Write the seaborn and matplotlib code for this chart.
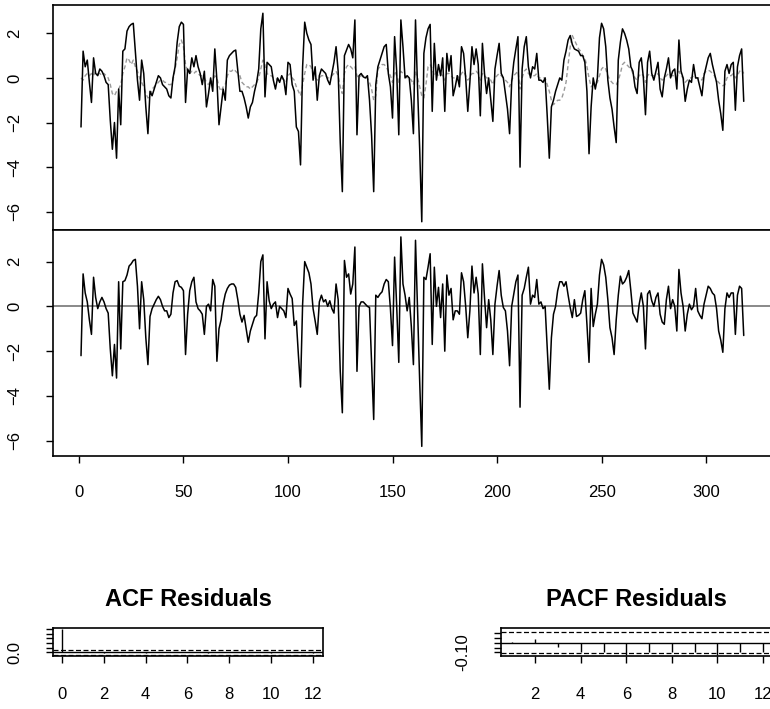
import numpy as np
import pandas as pd
import seaborn as sns
import matplotlib
matplotlib.use("Agg")
import matplotlib.pyplot as plt

# observed series (black line, top panel)
observed = [
    -2.2, 1.2, 0.5, 0.8, -0.2, -1.1, 0.9, 0.2, 0.1, 0.4,
    0.3, 0.1, -0.2, -0.3, -1.9, -3.2, -2.0, -3.6, -0.5, -2.1,
    1.2, 1.3, 2.1, 2.3, 2.4, 2.45, 1.2, -0.1, -1.0, 0.8,
    0.2, -1.3, -2.5, -0.6, -0.8, -0.5, -0.2, 0.1, 0.0, -0.3,
    -0.4, -0.5, -0.8, -0.9, 0.0, 0.5, 1.6, 2.3, 2.5, 2.4,
    -1.1, 0.4, 0.2, 0.9, 0.5, 1.0, 0.5, 0.2, -0.3, 0.3,
    -1.3, -0.7, 0.0, -0.6, 1.3, -0.1, -2.1, -1.3, -0.5, -1.0,
    0.8, 1.0, 1.1, 1.2, 1.25, 0.3, -0.6, -0.6, -0.9, -1.3,
    -1.8, -1.3, -1.1, -0.6, -0.2, 0.4, 2.2, 2.9, -0.85, 0.7,
    0.6, 0.5, -0.1, -0.5, 0.0, -0.2, 0.1, -0.1, -0.75, 0.7,
    0.6, -0.3, -0.6, -2.2, -2.4, -3.9, 0.5, 2.5, 2.0, 1.7,
    1.5, -0.1, 0.5, -1.0, 0.1, 0.4, 0.3, 0.2, -0.1, -0.3,
    0.2, 0.7, 1.4, 0.3, -2.9, -5.1, 1.0, 1.25, 1.5, 1.3,
    0.9, 2.6, -2.55, 0.1, 0.2, 0.05, 0.0, 0.1, -1.0, -2.6,
    -5.1, -0.3, 0.5, 0.8, 1.1, 1.4, 1.5, 0.2, -0.4, -1.8,
    1.85, 0.3, -2.55, 2.6, 1.4, 0.0, 0.1, 0.0, -1.0, -2.5,
    2.6, -0.5, -3.2, -6.45, 1.1, 1.8, 2.2, 2.4, -1.5, 1.55,
    -0.1, 0.6, 0.1, 0.9, -1.5, 1.1, 0.3, 1.0, -0.8, -0.4,
    0.1, -0.4, 1.4, 1.1, 0.0, -1.5, -0.2, 1.4, 0.6, 1.3,
    0.6, -1.7, 1.55, 0.2, -0.7, 0.0, -1.0, -1.95, 0.4, 1.0,
    1.55, 0.2, 0.0, -0.7, -1.4, -2.5, -0.2, 0.7, 1.3, 1.85,
    -4.0, 0.4, 1.4, 1.85, 0.5, 0.0, 0.5, 0.4, 1.1, -0.1,
    -0.1, -0.2, 0.0, -1.7, -3.6, -1.3, -1.0, -0.6, -0.3, 0.0,
    -0.1, 0.8, 1.2, 1.7, 1.9, 1.5, 1.3, 1.25, 1.2, 1.0,
    1.0, 0.7, -0.6, -3.4, -1.3, 0.0, -0.5, 0.0, 1.8, 2.45,
    2.2, 1.4, -0.1, -0.9, -1.4, -2.2, -2.9, 0.8, 1.6, 2.2,
    2.0, 1.7, 1.3, 0.5, 0.3, -0.4, -0.7, 0.7, 0.9, 0.0,
    -1.65, 0.7, 1.2, 0.2, -0.1, 0.3, 0.7, -0.5, -0.85, 0.0,
    0.4, 0.9, 0.0, 0.3, 0.4, -0.5, 1.7, 0.3, 0.0, -1.05,
    -0.5, -0.1, -0.2, 0.6, 0.0, 0.0, -0.4, -0.8, 0.1, 0.5,
    0.9, 1.1, 0.6, 0.2, -0.2, -1.0, -1.6, -2.35, 0.3, 0.6,
    0.2, 0.6, 0.7, -1.45, 0.5, 1.0, 1.3, -1.05,
]

# fitted values (grey dashed line, top panel)
fitted = [
    0.0, -0.1, 0.1, 0.2, 0.1, 0.2, 0.1, 0.3, 0.2, 0.2,
    0.1, 0.2, 0.1, 0.0, -0.3, -0.7, -0.8, -0.6, -0.5, -0.3,
    0.2, 0.5, 0.9, 0.8, 0.6, 0.8, 0.5, 0.3, 0.0, -0.2,
    -0.4, -0.7, -0.9, -0.8, -0.5, -0.4, -0.3, -0.2, -0.1, -0.1,
    -0.2, -0.2, -0.3, -0.3, -0.1, 0.4, 0.9, 1.5, 1.7, 1.4,
    0.6, 0.3, 0.2, 0.3, 0.2, 0.3, 0.2, 0.1, 0.1, 0.0,
    -0.2, -0.3, -0.1, -0.2, 0.1, 0.0, -0.4, -0.6, -0.4, -0.3,
    0.1, 0.3, 0.3, 0.4, 0.3, 0.2, 0.1, -0.2, -0.3, -0.4,
    -0.4, -0.5, -0.4, -0.3, -0.2, 0.0, 0.4, 0.8, 0.6, 0.2,
    0.1, 0.1, 0.0, 0.0, -0.1, 0.0, 0.0, -0.1, -0.2, 0.1,
    0.2, 0.0, -0.1, -0.4, -0.6, -0.8, -0.3, 0.2, 0.6, 0.6,
    0.5, 0.2, 0.0, -0.1, 0.0, 0.1, 0.1, 0.1, 0.0, 0.0,
    0.1, 0.2, 0.3, 0.1, -0.4, -0.7, 0.2, 0.5, 0.6, 0.5,
    0.4, 0.5, 0.1, 0.0, 0.1, 0.1, 0.0, 0.0, -0.2, -0.5,
    -1.0, -0.8, 0.4, 0.5, 0.6, 0.6, 0.5, 0.3, 0.1, -0.2,
    0.3, 0.1, -0.2, 0.3, 0.2, 0.1, 0.0, 0.0, -0.1, -0.3,
    0.3, 0.0, -0.4, -0.8, -0.9, -0.3, 0.5, 0.6, 0.4, 0.1,
    0.2, 0.1, 0.2, 0.1, -0.1, 0.2, 0.2, 0.1, 0.0, 0.0,
    0.1, 0.0, 0.2, 0.3, 0.1, -0.1, 0.0, 0.2, 0.2, 0.3,
    0.2, -0.1, 0.2, 0.1, 0.0, 0.0, -0.1, -0.3, 0.0, 0.1,
    0.2, 0.1, 0.0, -0.1, -0.2, -0.4, -0.1, 0.1, 0.2, 0.3,
    -0.5, 0.0, 0.3, 0.4, 0.2, 0.1, 0.1, 0.1, 0.2, 0.0,
    0.0, 0.0, 0.0, -0.3, -0.6, -1.0, -1.2, -1.1, -1.0, -1.0,
    -0.9, -0.6, -0.2, 0.6, 1.4, 1.9, 1.7, 1.5, 1.3, 1.2,
    1.0, 0.9, 0.5, 0.0, -0.4, -0.3, -0.3, -0.2, 0.1, 0.4,
    0.5, 0.4, 0.1, -0.1, -0.2, -0.3, -0.3, -0.1, 0.2, 0.6,
    0.7, 0.6, 0.5, 0.4, 0.2, 0.0, -0.1, 0.1, 0.2, 0.1,
    -0.2, 0.1, 0.2, 0.1, 0.1, 0.1, 0.2, 0.0, -0.1, 0.0,
    0.1, 0.2, 0.1, 0.1, 0.1, 0.0, 0.3, 0.1, 0.0, -0.2,
    -0.1, 0.0, 0.0, 0.1, 0.0, 0.0, 0.0, -0.1, 0.2, 0.3,
    0.35, 0.3, 0.2, 0.1, -0.1, -0.2, -0.3, -0.35, -0.3, 0.0,
    0.1, 0.1, 0.2, 0.0, 0.1, 0.3, 0.35, 0.2,
]

# residuals (bottom panel)
residuals = [
    -2.2, 1.45, 0.6, 0.2, -0.6, -1.25, 1.3, 0.4, -0.1, 0.2,
    0.4, 0.2, -0.1, -0.3, -1.9, -3.1, -1.7, -3.2, 1.1, -1.9,
    1.1, 1.15, 1.4, 1.8, 1.9, 2.05, 2.1, 0.9, -1.0, 1.1,
    0.3, -1.4, -2.6, -0.45, -0.1, 0.1, 0.3, 0.45, 0.3, 0.0,
    -0.2, -0.2, -0.5, -0.35, 0.6, 1.1, 1.15, 0.9, 0.85, 0.7,
    -2.15, -0.35, 0.7, 1.1, 1.3, 0.2, -0.1, -0.2, -0.35, -1.25,
    0.0, 0.1, -0.2, 1.2, 0.9, -2.45, -1.0, -0.6, 0.1, 0.55,
    0.8, 0.95, 1.0, 1.0, 0.85, 0.3, -0.35, -0.7, -0.4, -1.0,
    -1.6, -1.1, -0.8, -0.5, -0.4, 0.6, 2.0, 2.3, -1.45, 1.1,
    0.25, -0.1, 0.1, 0.2, -0.5, 0.0, -0.1, -0.2, -0.5, 0.8,
    0.55, 0.35, -0.85, -0.65, -2.2, -3.6, 0.1, 2.0, 1.75, 1.5,
    1.0, -0.1, -0.65, -1.25, 0.2, 0.5, 0.2, 0.3, 0.0, 0.25,
    -0.1, -0.3, 1.0, 0.3, -2.9, -4.75, 2.05, 1.3, 1.45, 0.55,
    1.0, 2.65, -2.9, 0.0, 0.2, 0.2, 0.1, 0.0, -0.05, -2.5,
    -5.05, 0.5, 0.4, 0.55, 0.65, 1.0, 1.2, 1.1, -0.1, -1.75,
    2.2, 0.0, -2.5, 3.1, 1.0, 0.5, -0.2, 0.4, -0.9, -2.6,
    2.95, -0.2, -3.35, -6.25, 1.3, 1.2, 1.75, 2.35, -1.7, 1.75,
    0.0, 0.85, -0.5, 1.0, -2.0, 1.4, 0.5, 0.8, -0.6, -0.2,
    -0.2, -0.35, 1.5, 1.1, 0.0, -1.4, -0.2, 1.8, 0.6, 1.3,
    0.55, -2.15, 1.9, 0.4, -0.95, 0.3, -0.6, -2.15, 0.1, 0.9,
    1.6, 0.5, -0.05, -0.2, -1.1, -2.65, 0.0, 0.55, 1.1, 1.4,
    -4.5, 0.5, 0.8, 1.3, 1.75, 0.1, 0.5, 0.4, 1.2, 0.1,
    0.2, -0.1, 0.0, -1.85, -3.7, -1.4, -0.35, 0.0, 0.7, 1.1,
    1.1, 0.9, 1.1, 0.5, -0.05, -0.5, 0.3, -0.45, -0.4, -0.3,
    0.3, 0.7, -0.8, -2.5, 0.8, -0.9, -0.35, 0.1, 1.4, 2.1,
    1.85, 1.3, 0.3, -0.95, -1.4, -2.15, -0.6, 0.5, 1.35, 1.0,
    1.1, 1.3, 1.6, 0.7, -0.3, -0.5, -0.7, 0.1, 0.6, 0.0,
    -1.9, 0.55, 0.7, 0.25, 0.0, 0.4, 0.6, -0.35, -0.7, -0.8,
    0.3, 0.9, -0.1, 0.3, 0.0, -1.1, 1.65, 0.6, 0.0, -1.1,
    -0.35, 0.1, -0.15, 0.0, 0.8, -0.2, -0.4, -0.55, 0.1, 0.5,
    0.9, 0.8, 0.6, 0.5, -0.1, -1.1, -1.5, -2.05, -0.1, 0.6,
    0.4, 0.6, 0.6, -1.25, 0.5, 0.9, 0.8, -1.3,
]

acf_lags = list(range(0, 13))
acf_vals = [1.0, 0.03, -0.02, 0.01, -0.04, 0.02, 0.0, -0.03, 0.02, 0.01, -0.02, 0.03, -0.01]
pacf_lags = list(range(1, 13))
pacf_vals = [0.005, 0.04, -0.045, -0.1, -0.1, -0.13, -0.1, -0.1, -0.1, -0.13, -0.1, -0.1]
conf = 0.11

time_idx = np.arange(1, len(observed) + 1)
df = pd.DataFrame({"t": time_idx, "obs": observed, "fit": fitted, "res": residuals})

sns.set_style("ticks")
plt.rcParams["font.family"] = ["Liberation Sans", "DejaVu Sans"]
plt.rcParams["text.color"] = "black"

W, H = 770, 709
fig = plt.figure(figsize=(W / 100, H / 100), dpi=100)


def box(l, t, r, b):
    return [l / W, 1 - b / H, (r - l) / W, (b - t) / H]


def style(ax):
    for s in ax.spines.values():
        s.set_visible(True)
        s.set_color("black")
        s.set_linewidth(1.2)
    ax.tick_params(direction="out", length=5, width=1, colors="black",
                   labelcolor="black", labelsize=12)
    ax.set_xlabel("")
    ax.set_ylabel("")


ax1 = fig.add_axes(box(53, 5, 773, 230))
ax2 = fig.add_axes(box(53, 230, 773, 456))

# fitted line sits under the observed series, as in the original
sns.lineplot(data=df, x="t", y="fit", ax=ax1, color="#9a9a9a", lw=1.0,
             linestyle=(0, (3, 2)), zorder=1)
sns.lineplot(data=df, x="t", y="obs", ax=ax1, color="black", lw=1.1, zorder=2)
ax1.set_xlim(-12.4, 332)
ax1.set_ylim(-6.82, 3.27)
ax1.set_yticks([-6, -4, -2, 0, 2])
ax1.set_xticks([])

ax2.axhline(0, color="#808080", lw=1.3)
sns.lineplot(data=df, x="t", y="res", ax=ax2, color="black", lw=1.1)
ax2.set_xlim(-12.4, 332)
ax2.set_ylim(-6.68, 3.41)
ax2.set_yticks([-6, -4, -2, 0, 2])
ax2.set_xticks([0, 50, 100, 150, 200, 250, 300])

for ax in (ax1, ax2):
    style(ax)
    ax.tick_params(axis="y", labelrotation=90, pad=17)
    for lab in ax.get_yticklabels():
        lab.set_va("center")
ax2.tick_params(axis="x", pad=16)

# ACF of residuals
ax3 = fig.add_axes(box(53, 628, 323, 656))
ax3.vlines(acf_lags, 0, acf_vals, color="black", lw=1.0)
ax3.axhline(0, color="black", lw=1.0)
for c in (conf, -conf):
    ax3.axhline(c, color="black", lw=0.9, linestyle=(0, (4, 2)))
ax3.set_xlim(-0.43, 12.49)
ax3.set_ylim(-0.155, 1.045)
ax3.set_yticks([0.0, 0.2, 0.4, 0.6, 0.8, 1.0])
ax3.set_yticklabels(["0.0", "", "", "", "", ""])
ax3.set_xticks([0, 2, 4, 6, 8, 10, 12])
style(ax3)
ax3.tick_params(axis="y", labelrotation=90, pad=17)
ax3.tick_params(axis="x", pad=17)
for lab in ax3.get_yticklabels():
    lab.set_va("center")

# PACF of residuals
ax4 = fig.add_axes(box(501, 628, 773, 656))
ax4.vlines(pacf_lags, 0, pacf_vals, color="black", lw=1.0)
ax4.axhline(0, color="black", lw=1.0)
for c in (conf, -conf):
    ax4.axhline(c, color="black", lw=0.9, linestyle=(0, (4, 2)))
ax4.set_xlim(0.5, 12.44)
ax4.set_ylim(-0.136, 0.15)
ax4.set_yticks([-0.10, -0.05, 0.0, 0.05, 0.10])
ax4.set_yticklabels(["-0.10", "", "", "", ""])
ax4.set_xticks([2, 4, 6, 8, 10, 12])
style(ax4)
ax4.tick_params(axis="y", labelrotation=90, pad=17)
ax4.tick_params(axis="x", pad=17)
for lab in ax4.get_yticklabels():
    lab.set_va("center")

fig.text(188 / W, 1 - 600 / H, "ACF Residuals", ha="center", va="center",
         fontsize=17, fontweight="bold", color="black")
fig.text(636 / W, 1 - 600 / H, "PACF Residuals", ha="center", va="center",
         fontsize=17, fontweight="bold", color="black")

fig.savefig("out.png", dpi=100)
